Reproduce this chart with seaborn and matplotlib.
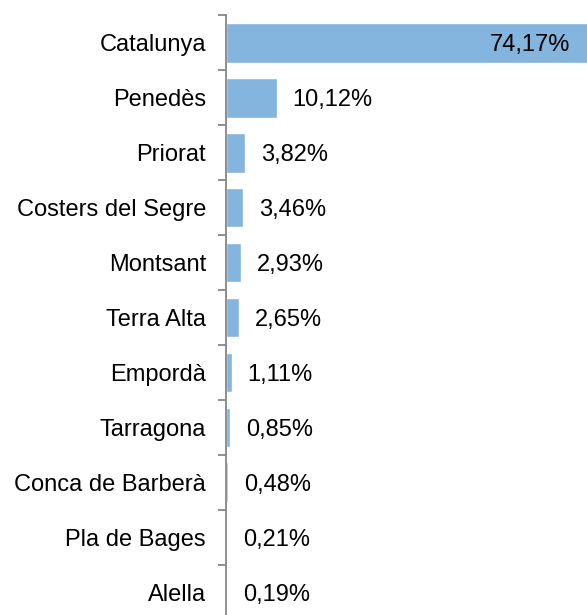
import matplotlib
matplotlib.use("Agg")
import matplotlib.pyplot as plt
import seaborn as sns
import pandas as pd
from matplotlib.ticker import FixedLocator

categories = ["Catalunya", "Penedès", "Priorat", "Costers del Segre", "Montsant",
              "Terra Alta", "Empordà", "Tarragona", "Conca de Barberà",
              "Pla de Bages", "Alella"]
values = [74.17, 10.12, 3.82, 3.46, 2.93, 2.65, 1.11, 0.85, 0.48, 0.21, 0.19]
labels = ["74,17%", "10,12%", "3,82%", "3,46%", "2,93%", "2,65%", "1,11%",
          "0,85%", "0,48%", "0,21%", "0,19%"]

df = pd.DataFrame({"cat": categories, "val": values})

sns.set_theme(style="white")
plt.rcParams["font.family"] = ["Liberation Sans", "DejaVu Sans"]

FS = 17
fig = plt.figure(figsize=(5.87, 6.15), dpi=100)
ax = fig.add_axes([226 / 587, 0.0, 1 - 226 / 587, 599.5 / 615])

sns.barplot(data=df, x="val", y="cat", orient="h", color="#84B5DE",
            saturation=1, width=0.72, ax=ax)

xmax = 72.2
ax.set_xlim(0, xmax)
ax.set_ylim(10.5 - 4.5 / 54.9, -0.5)
ax.set_xlabel("")
ax.set_ylabel("")
ax.set_xticks([])

for s in ["top", "right", "bottom"]:
    ax.spines[s].set_visible(False)
ax.spines["left"].set_color("#868686")
ax.spines["left"].set_linewidth(1.3)

ax.tick_params(axis="y", which="major", length=0, pad=14.4, labelsize=FS,
               labelcolor="black")
ax.yaxis.set_minor_locator(FixedLocator([i - 0.5 for i in range(len(categories) + 1)]))
ax.tick_params(axis="y", which="minor", length=6, width=1.3, color="#868686", left=True)

for i, (v, lab) in enumerate(zip(values, labels)):
    if v > xmax:
        ax.annotate(lab, xy=(xmax, i), xytext=(-17, 0), textcoords="offset pixels",
                    ha="right", va="center_baseline", fontsize=FS, color="black",
                    annotation_clip=False)
    else:
        ax.annotate(lab, xy=(v, i), xytext=(16, 0), textcoords="offset pixels",
                    ha="left", va="center_baseline", fontsize=FS, color="black",
                    annotation_clip=False)

fig.savefig("out.png", dpi=100)
